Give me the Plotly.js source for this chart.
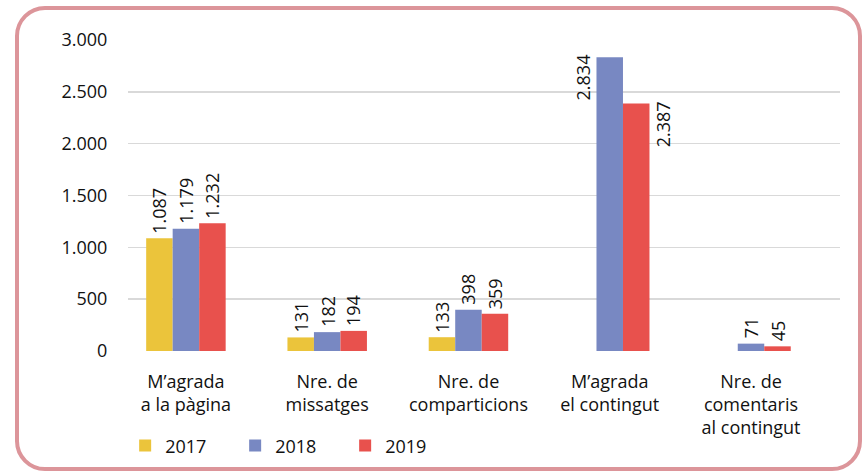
<!DOCTYPE html>
<html>
<head>
<meta charset="utf-8">
<script src="https://cdn.plot.ly/plotly-3.0.1.min.js"></script>
<style>
  html, body { margin: 0; padding: 0; background: #fff; }
  #wrap { position: relative; width: 863px; height: 475px; overflow: hidden; }
  #chart { position: absolute; left: 0; top: 0; width: 863px; height: 475px; }
  #frame { position: absolute; left: 15px; top: 6px; width: 847px; height: 465px; box-sizing: border-box;
           border: 4px solid #dc959a; border-radius: 30px; pointer-events: none; }
</style>
</head>
<body>
<div id="wrap"><div id="chart"></div><div id="frame"></div></div>
<script>
const categories = ["M’agrada<br>a la pàgina", "Nre. de<br>missatges", "Nre. de<br>comparticions", "M’agrada<br>el contingut", "Nre. de<br>comentaris<br>al contingut"];
const seriesNames = ["2017", "2018", "2019"];
const values2017 = [1087, 131, 133, null, null];
const values2018 = [1179, 182, 398, 2834, 71];
const values2019 = [1232, 194, 359, 2387, 45];
const yTicks = [0, 500, 1000, 1500, 2000, 2500, 3000];

const colors = ["#ebc43b", "#7888c2", "#e8514d"];
const allValues = [values2017, values2018, values2019];

const barW = 0.1876;   // bar width in category units
const font = "Open Sans, Noto Sans, sans-serif";

function fmt(v) { return String(v).replace(/\B(?=(\d{3})+(?!\d))/g, "."); }

const idx = categories.map((c, i) => i);
const traces = allValues.map((vals, s) => ({
  type: "bar",
  name: seriesNames[s],
  x: idx,
  y: vals,
  width: barW,
  marker: { color: colors[s], line: { width: 0 } },
  hoverinfo: "skip"
}));

// label placement overrides (series, category) -> slot shift & anchor
const special = {
  "1-3": { slot: -1, anchor: "top", yshift: 5 },
  "2-3": { slot: 1, anchor: "top", yshift: 4 }
};

const annotations = [];
allValues.forEach((vals, s) => {
  vals.forEach((v, c) => {
    if (v === null) return;
    const sp = special[s + "-" + c];
    const slot = (s - 1) + (sp ? sp.slot : 0);
    annotations.push({
      xref: "x", yref: "y",
      x: c + slot * barW,
      y: v,
      text: fmt(v),
      showarrow: false,
      textangle: -90,
      xanchor: "center",
      yanchor: sp ? sp.anchor : "bottom",
      yshift: sp ? sp.yshift : 3,
      font: { family: font, size: 18, color: "#111" }
    });
  });
});

const layout = {
  width: 863, height: 475,
  margin: { l: 128, r: 23, t: 40, b: 123, pad: 0 },
  paper_bgcolor: "#fff", plot_bgcolor: "#fff",
  separators: ",.",
  font: { family: font, size: 18, color: "#111" },
  barmode: "group",
  bargap: 1 - 3 * barW,
  bargroupgap: 0,
  showlegend: true,
  legend: {
    orientation: "h",
    x: -0.004, xanchor: "left",
    y: -0.301, yanchor: "middle",
    font: { family: font, size: 18, color: "#111" },
    entrywidth: 65, entrywidthmode: "pixels",
    traceorder: "normal",
    bgcolor: "rgba(0,0,0,0)"
  },
  xaxis: {
    type: "linear",
    range: [-0.41, 4.63],
    tickvals: idx,
    ticktext: categories,
    showgrid: false,
    zeroline: false,
    showline: false,
    ticks: "outside", ticklen: 14, tickcolor: "rgba(0,0,0,0)",
    tickfont: { family: font, size: 18, color: "#111" },
    fixedrange: true
  },
  yaxis: {
    range: [0, 3000],
    tickvals: yTicks,
    tickformat: ",d",
    showgrid: true,
    gridcolor: "#d9d9d9",
    gridwidth: 1.5,
    zeroline: false,
    showline: false,
    ticks: "outside", ticklen: 16, tickcolor: "rgba(0,0,0,0)",
    tickfont: { family: font, size: 18, color: "#111" },
    fixedrange: true
  },
  annotations: annotations
};

Plotly.newPlot("chart", traces, layout, { staticPlot: true, displayModeBar: false });
</script>
</body>
</html>
